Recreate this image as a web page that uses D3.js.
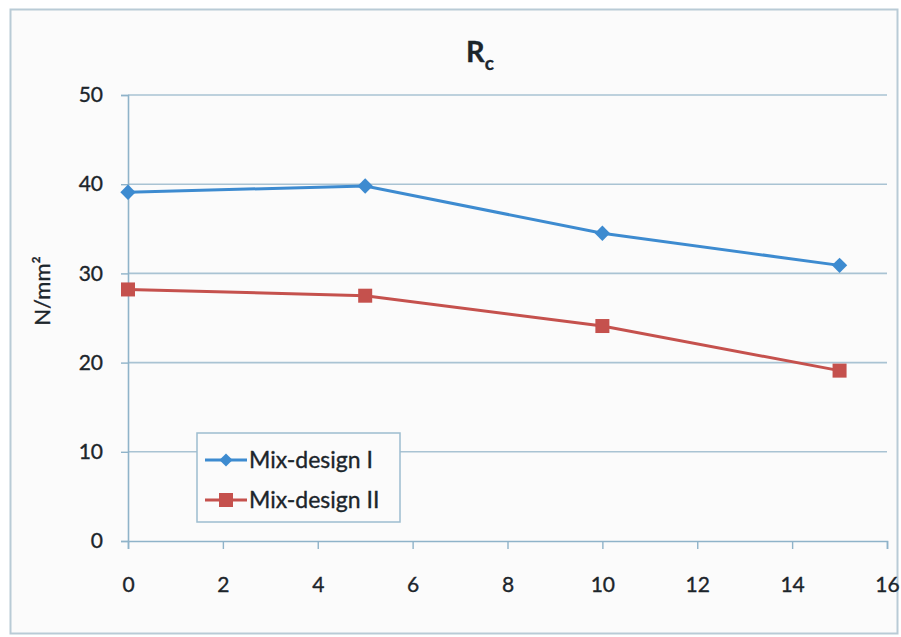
<!DOCTYPE html>
<html>
<head>
<meta charset="utf-8">
<script src="https://cdn.jsdelivr.net/npm/d3@7"></script>
<style>
  html, body { margin: 0; padding: 0; background: #ffffff; }
  svg { display: block; }
  text { font-family: Lato, "Open Sans", sans-serif; fill: #1c252b; stroke: #1c252b; stroke-width: 0.35px; }
</style>
</head>
<body>
<svg id="chart" width="901" height="637"></svg>
<script>
// Compressive strength R_c of two mix designs
const xValues = [0, 5, 10, 15];
const mixDesign1 = [39.1, 39.8, 34.5, 30.9];
const mixDesign2 = [28.2, 27.5, 24.1, 19.1];
const seriesNames = ["Mix-design I", "Mix-design II"];
const xTicks = [0, 2, 4, 6, 8, 10, 12, 14, 16];
const yTicks = [0, 10, 20, 30, 40, 50];

const colors = ["#3d8bd0", "#c5514d"];
const W = 901, H = 637;
const margin = { left: 128, right: 14, top: 95, bottom: 96 };
const tickFont = 21;

const svg = d3.select("#chart");

// chart frame
svg.append("rect")
  .attr("x", 0).attr("y", 0).attr("width", W).attr("height", H)
  .attr("fill", "#ffffff");
svg.append("rect")
  .attr("x", 10.5).attr("y", 9.5).attr("width", 887).attr("height", 624)
  .attr("fill", "#fbfbfb").attr("stroke", "#b9cbd6").attr("stroke-width", 2);

const x = d3.scaleLinear().domain([0, 16]).range([margin.left, W - margin.right]);
const y = d3.scaleLinear().domain([0, 50]).range([H - margin.bottom, margin.top]);

// horizontal gridlines
svg.append("g")
  .selectAll("line")
  .data(yTicks.filter(d => d > 0))
  .join("line")
  .attr("x1", x(0)).attr("x2", x(16))
  .attr("y1", d => y(d)).attr("y2", d => y(d))
  .attr("stroke", "#a9c3d3").attr("stroke-width", 1.6);

// x axis
const xAxis = svg.append("g")
  .attr("transform", `translate(0,${y(0)})`)
  .call(d3.axisBottom(x).tickValues(xTicks).tickSize(8).tickPadding(28));
xAxis.select(".domain").attr("stroke", "#8fb3c9").attr("stroke-width", 1.6);
xAxis.selectAll(".tick line").attr("stroke", "#8fb3c9").attr("stroke-width", 1.4);
xAxis.selectAll(".tick text")
  .attr("font-size", tickFont).attr("font-family", "Lato, sans-serif")
  .attr("fill", "#1c252b");

// y axis
const yAxis = svg.append("g")
  .attr("transform", `translate(${x(0)},0)`)
  .call(d3.axisLeft(y).tickValues(yTicks).tickSize(7).tickPadding(18));
yAxis.select(".domain").attr("stroke", "#8fb3c9").attr("stroke-width", 1.6);
yAxis.selectAll(".tick line").attr("stroke", "#8fb3c9").attr("stroke-width", 1.4);
yAxis.selectAll(".tick text")
  .attr("font-size", tickFont).attr("font-family", "Lato, sans-serif")
  .attr("fill", "#1c252b");

// title R with subscript c
const title = svg.append("text")
  .attr("x", 480).attr("y", 62)
  .attr("text-anchor", "middle")
  .attr("font-size", 29).attr("font-weight", "bold");
title.append("tspan").text("R");
title.append("tspan").attr("dy", 8).attr("font-size", 19).text("c");

// y axis label
svg.append("text")
  .attr("transform", `translate(50,${291}) rotate(-90)`)
  .attr("text-anchor", "middle")
  .attr("font-size", 22)
  .text("N/mm²");

const line = d3.line().x(d => x(d[0])).y(d => y(d[1]));
const seriesData = [mixDesign1, mixDesign2].map(vals => xValues.map((v, i) => [v, vals[i]]));

seriesData.forEach((pts, i) => {
  svg.append("path")
    .datum(pts)
    .attr("fill", "none")
    .attr("stroke", colors[i])
    .attr("stroke-width", 3)
    .attr("d", line);
});

// markers: diamonds for series 1, squares for series 2
const diamond = d3.symbol().type(d3.symbolDiamond2).size(150);
svg.append("g").selectAll("path")
  .data(seriesData[0])
  .join("path")
  .attr("transform", d => `translate(${x(d[0])},${y(d[1])})`)
  .attr("d", diamond)
  .attr("fill", colors[0]);

svg.append("g").selectAll("rect")
  .data(seriesData[1])
  .join("rect")
  .attr("x", d => x(d[0]) - 7).attr("y", d => y(d[1]) - 7)
  .attr("width", 14).attr("height", 14)
  .attr("fill", colors[1]);

// legend
const lg = svg.append("g");
lg.append("rect")
  .attr("x", 197).attr("y", 433).attr("width", 203).attr("height", 89)
  .attr("fill", "#fbfbfb").attr("stroke", "#9dbdd0").attr("stroke-width", 1.5);
const rowsY = [460, 500];
seriesNames.forEach((name, i) => {
  lg.append("line")
    .attr("x1", 205).attr("x2", 247)
    .attr("y1", rowsY[i]).attr("y2", rowsY[i])
    .attr("stroke", colors[i]).attr("stroke-width", 3);
  if (i === 0) {
    lg.append("path")
      .attr("transform", `translate(226,${rowsY[i]})`)
      .attr("d", d3.symbol().type(d3.symbolDiamond2).size(110))
      .attr("fill", colors[i]);
  } else {
    lg.append("rect")
      .attr("x", 219).attr("y", rowsY[i] - 7).attr("width", 14).attr("height", 14)
      .attr("fill", colors[i]);
  }
  lg.append("text")
    .attr("x", 249).attr("y", rowsY[i] + 8)
    .attr("font-size", 23)
    .text(name);
});
</script>
</body>
</html>
